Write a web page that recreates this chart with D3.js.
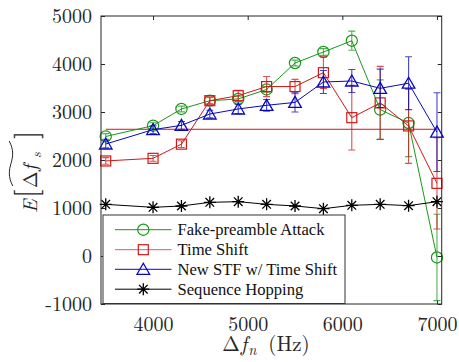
<!DOCTYPE html>
<html><head><meta charset="utf-8">
<script src="https://cdn.jsdelivr.net/npm/d3@7"></script>
<style>body{margin:0;background:#fff}svg{display:block}</style>
</head><body>
<svg id="c" width="459" height="362"></svg>
<script>
const xVals = [3500,4000,4300,4600,4900,5200,5500,5800,6100,6400,6700,7000];
const fakeVals = [2490,2715,3063,3236,3271,3470,4021,4250,4485,3050,2770,-30];
const fakeErr  = [60,60,60,60,60,60,60,70,200,620,700,900];
const shiftVals = [1980,2035,2330,3236,3340,3530,3530,3819,2882,3190,2710,1514];
const shiftErr  = [70,60,70,80,110,210,150,330,675,760,780,950];
const stfVals = [2333,2632,2722,2958,3063,3139,3200,3625,3646,3493,3600,2580];
const stfErr  = [80,80,80,80,100,120,200,240,240,400,550,820];
const hopVals = [1076,1014,1042,1118,1132,1076,1042,986,1056,1076,1049,1132];
const refLineX = [3500,7000];
const refLineY = 2640;
const xTicks = [4000,5000,6000,7000];
const yTicks = [-1000,0,1000,2000,3000,4000,5000];
const seriesNames = ["Fake-preamble Attack","Time Shift","New STF w/ Time Shift","Sequence Hopping"];

const svg = d3.select("#c");
const L=101, R=441.7, T=16, B=304;
const x = d3.scaleLinear().domain([3450,7050]).range([L,R]);
const y = d3.scaleLinear().domain([-1000,5000]).range([B,T]);
const LM = '"Latin Modern Roman","CMU Serif","Liberation Serif",serif';
const TIMES = '"Liberation Serif","Times New Roman",serif';
const axisCol = "#262626";

const series = [
  {name:seriesNames[0], vals:fakeVals, err:fakeErr, color:"#1a961a", marker:"circle"},
  {name:seriesNames[1], vals:shiftVals, err:shiftErr, color:"#d01818", marker:"square"},
  {name:seriesNames[2], vals:stfVals, err:stfErr, color:"#0808c0", marker:"triangle"},
  {name:seriesNames[3], vals:hopVals, err:null, color:"#000000", marker:"star"}
];

function drawMarker(g, type, cx, cy, color){
  if(type==="circle"){
    g.append("circle").attr("cx",cx).attr("cy",cy).attr("r",5.6)
     .attr("fill","none").attr("stroke",color).attr("stroke-width",1.2);
  } else if(type==="square"){
    g.append("rect").attr("x",cx-5).attr("y",cy-5).attr("width",10).attr("height",10)
     .attr("fill","none").attr("stroke",color).attr("stroke-width",1.2);
  } else if(type==="triangle"){
    g.append("path").attr("d",`M${cx},${cy-6}L${cx+6.3},${cy+5}L${cx-6.3},${cy+5}Z`)
     .attr("fill","none").attr("stroke",color).attr("stroke-width",1.3);
  } else {
    const s=6, d=4.3;
    g.append("path").attr("d",`M${cx-s},${cy}L${cx+s},${cy}M${cx},${cy-s}L${cx},${cy+s}M${cx-d},${cy-d}L${cx+d},${cy+d}M${cx-d},${cy+d}L${cx+d},${cy-d}`)
     .attr("stroke",color).attr("stroke-width",1.3).attr("fill","none");
  }
}

svg.append("rect").attr("x",L).attr("y",T).attr("width",R-L).attr("height",B-T).attr("fill","#fff");

const fmt = d=>String(d);
const axB = d3.axisBottom(x).tickValues(xTicks).tickSizeInner(-4).tickSizeOuter(0).tickPadding(13).tickFormat(fmt);
const axT = d3.axisTop(x).tickValues(xTicks).tickSizeInner(-4).tickSizeOuter(0).tickFormat("");
const axL = d3.axisLeft(y).tickValues(yTicks).tickSizeInner(-4).tickSizeOuter(0).tickPadding(9).tickFormat(fmt);
const axR = d3.axisRight(y).tickValues(yTicks).tickSizeInner(-4).tickSizeOuter(0).tickFormat("");
function styleAxis(g){
  g.attr("font-family",null).attr("font-size",null);
  g.select(".domain").remove();
  g.selectAll("line").attr("stroke",axisCol);
  g.selectAll("text").attr("fill",axisCol).style("font-family",LM).style("font-size","20px");
}
svg.append("g").attr("transform",`translate(0,${B})`).call(axB).call(styleAxis);
svg.append("g").attr("transform",`translate(0,${T})`).call(axT).call(styleAxis);
svg.append("g").attr("transform",`translate(${L},0)`).call(axL).call(styleAxis);
svg.append("g").attr("transform",`translate(${R},0)`).call(axR).call(styleAxis);

const dg = svg.append("g");
dg.append("line").attr("x1",x(refLineX[0])).attr("x2",x(refLineX[1]))
  .attr("y1",y(refLineY)).attr("y2",y(refLineY)).attr("stroke","#e01010").attr("stroke-width",1);

const line = d3.line().x((d,i)=>x(xVals[i])).y(d=>y(d));
series.forEach(s=>{
  const g = dg.append("g");
  if(s.err){
    s.vals.forEach((v,i)=>{
      const cx=x(xVals[i]), y1=y(v+s.err[i]), y2=y(v-s.err[i]);
      g.append("path").attr("d",`M${cx},${y1}L${cx},${y2}M${cx-3.5},${y1}L${cx+3.5},${y1}M${cx-3.5},${y2}L${cx+3.5},${y2}`)
       .attr("stroke",s.color).attr("stroke-width",1.1).attr("fill","none").attr("stroke-opacity",0.75);
    });
  }
  g.append("path").datum(s.vals).attr("d",line).attr("fill","none").attr("stroke",s.color).attr("stroke-width",1);
  s.vals.forEach((v,i)=>drawMarker(g,s.marker,x(xVals[i]),y(v),s.color));
});

svg.append("rect").attr("x",L).attr("y",T).attr("width",R-L).attr("height",B-T)
  .attr("fill","none").attr("stroke",axisCol).attr("stroke-width",1);

// legend
const lg = svg.append("g");
lg.append("rect").attr("x",103).attr("y",215).attr("width",242).attr("height",88.5)
  .attr("fill","#fff").attr("stroke","#333").attr("stroke-width",1);
const rowY=[229.7,249.7,269.3,289.2];
series.forEach((s,i)=>{
  lg.append("line").attr("x1",115).attr("x2",171.5).attr("y1",rowY[i]).attr("y2",rowY[i])
    .attr("stroke",s.color).attr("stroke-width",1).attr("stroke-opacity",s.marker==="square"?0.7:1);
  drawMarker(lg,s.marker,143.3,rowY[i],s.color);
  lg.append("text").attr("x",177.5).attr("y",rowY[i]+5.5).text(s.name)
    .style("font-family",TIMES).style("font-size","16.6px").attr("fill","#111");
});

// x label
const xl = svg.append("text").attr("x",266).attr("y",351).attr("text-anchor","middle")
  .style("font-family",LM).style("font-size","21px").attr("fill",axisCol);
xl.append("tspan").text("Δ");
xl.append("tspan").style("font-style","italic").attr("dx",1).text("f");
xl.append("tspan").style("font-style","italic").style("font-size","14.5px").attr("dy",4).attr("dx",1).text("n");
xl.append("tspan").attr("dy",-4).attr("dx",12).text("(Hz)");

// y label (rotated)
const yl = svg.append("g").attr("transform","translate(37,213) rotate(-90)");
function piece(txt, at, size, italic, dy){
  yl.append("text").attr("x",at).attr("y",dy||0).text(txt)
    .style("font-family",LM).style("font-size",size+"px").attr("fill",axisCol)
    .style("font-style",italic?"italic":"normal");
}
piece("E",0,20,true,0);
piece("[",15,30,false,-1);
piece("Δ",25,20,false,0);
piece("f",42,20,true,0);
piece("s",55,14,true,4);
piece("]",74,30,false,-1);
const tx0=27, tx1=72, ty=-26;
const tw=tx1-tx0;
yl.append("path").attr("d",`M${tx0},${ty+1.8}C${tx0+tw*0.2},${ty-3} ${tx0+tw*0.35},${ty-2} ${tx0+tw*0.5},${ty}S${tx0+tw*0.8},${ty+3} ${tx1},${ty-1.8}`)
  .attr("fill","none").attr("stroke",axisCol).attr("stroke-width",1);
</script>
</body></html>
